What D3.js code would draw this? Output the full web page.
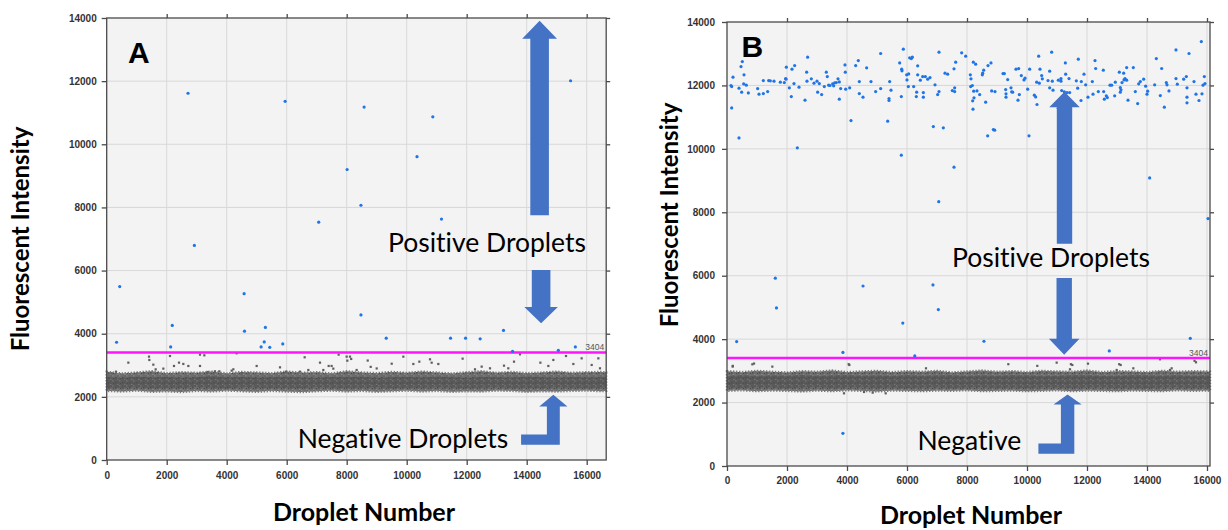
<!DOCTYPE html>
<html><head><meta charset="utf-8">
<script src="https://cdn.jsdelivr.net/npm/d3@7"></script>
<style>body{margin:0;background:#fff;} svg{display:block} text{font-variant-ligatures:none;font-feature-settings:"liga" 0,"clig" 0;}</style>
</head><body><svg id="c" width="1228" height="530"></svg>
<script>
// ---------------- DATA ----------------
const xTicks = [0, 2000, 4000, 6000, 8000, 10000, 12000, 14000, 16000];
const yTicks = [0, 2000, 4000, 6000, 8000, 10000, 12000, 14000];
const threshold = 3404;
const panelLetters = ["A", "B"];
const yTitle = "Fluorescent Intensity";
const xTitle = "Droplet Number";
const annotA = ["Positive Droplets", "Negative Droplets"];
const annotB = ["Positive Droplets", "Negative"];

// Panel A positive droplets [droplet number, intensity]
const positiveA = [[329,3730],[434,5493],[2132,3580],[2185,4264],[2711,11617],[2922,6797],[4580,5269],[4593,4082],[5146,3580],[5251,3740],[5290,4200],[5435,3570],[5869,3676],[5948,11360],[7067,7534],[8014,9201],[8475,8069],[8475,4595],[8580,11179],[9317,3858],[10344,9608],[10870,10869],[11160,7630],[11462,3858],[11962,3858],[12449,3837],[13226,4104],[13528,3441],[15055,3473],[15463,12012],[15621,3580]];

// Panel A negative droplets scattered above the main band
const scatterA = [[164,2746],[310,2798],[721,3084],[1410,3274],[1421,3168],[1554,3020],[1632,2872],[1888,2894],[2110,3295],[2243,2978],[2410,3084],[2554,3042],[2721,2978],[3110,3337],[3110,2978],[3254,3316],[3366,2788],[3610,2809],[3754,2809],[4165,2830],[4221,2872],[4332,3379],[4499,2746],[4999,2978],[5777,2935],[5977,2798],[6443,2798],[6599,3253],[6721,2851],[7110,3084],[7221,2851],[7399,2978],[7497,2978],[7554,2894],[7732,3337],[7999,3274],[8021,3147],[8110,3274],[8332,2851],[8150,3200],[8700,3150],[8800,2950],[9000,2900],[9500,3050],[9888,3273],[10221,3041],[10421,3115],[10777,3189],[10832,3083],[11054,3041],[11864,3210],[12277,2872],[12499,2957],[12777,2904],[13243,2988],[13387,2904],[13577,3115],[13777,3347],[14456,3083],[14721,2978],[14888,3168],[15310,3294],[15555,3041],[15832,3220],[16166,3010],[16388,3220],[16443,2904]];

// Panel A dense negative band: droplet number, outer upper/lower edge, core upper/lower edge
const bandXA = [0,500,1000,1500,2000,2500,3000,3500,4000,4500,5000,5500,6000,6500,7000,7500,8000,8500,9000,9500,10000,10500,11000,11500,12000,12500,13000,13500,14000,14500,15000,15500,16000,16500,16650];
const bandHiA = [2790,2740,2770,2810,2750,2780,2760,2800,2740,2790,2770,2750,2800,2760,2780,2740,2810,2770,2750,2790,2760,2800,2770,2740,2780,2810,2760,2790,2750,2770,2800,2760,2780,2790,2770];
const bandLoA = [2190,2170,2200,2160,2180,2150,2190,2170,2200,2180,2160,2190,2170,2150,2180,2200,2170,2190,2160,2180,2200,2170,2190,2160,2180,2170,2200,2190,2160,2180,2170,2190,2200,2180,2190];
const coreHiA = [2620,2600,2640,2610,2630,2600,2620,2650,2610,2630,2600,2620,2640,2610,2600,2630,2620,2640,2600,2620,2630,2610,2640,2620,2600,2630,2620,2610,2640,2620,2600,2630,2610,2620,2630];
const coreLoA = [2300,2290,2310,2280,2300,2290,2320,2300,2280,2310,2300,2290,2300,2280,2310,2300,2290,2300,2310,2280,2300,2290,2310,2300,2280,2300,2310,2290,2300,2280,2310,2300,2290,2300,2310];

// Panel B positive droplets
const positiveB = [[156,11292],[133,11997],[156,11965],[200,12259],[400,11913],[400,10346],[467,12596],[511,12753],[567,12333],[556,12049],[489,11786],[644,12007],[711,11765],[1022,11902],[1067,11723],[1211,11744],[1211,12154],[1355,11807],[1389,12154],[1444,12144],[1566,12133],[1778,12102],[1911,12091],[1966,12196],[1978,12575],[1955,12217],[2078,11923],[2144,11650],[2166,12511],[2233,12060],[2255,12627],[2344,10031],[2400,11944],[2600,11534],[2655,12417],[2688,12890],[2666,12133],[2811,12207],[2900,12070],[3000,12133],[3022,11786],[3078,12060],[3155,11713],[3244,11965],[3311,12417],[3344,12280],[3389,12007],[3433,11997],[3522,12049],[3589,12081],[3555,11986],[3644,12091],[3700,12207],[3744,12112],[3744,11566],[3789,11902],[3933,12648],[3944,12417],[3955,11881],[4089,11923],[4133,10893],[4289,12627],[4377,12785],[4411,12123],[4411,11744],[4533,11629],[4655,12554],[4800,12123],[4955,11807],[5122,13006],[5122,11902],
[5356,10872],[5400,11587],[5400,11524],[5422,12123],[5467,11849],[5756,12711],[5811,11650],[5822,12511],[5833,12459],[5878,13142],[5811,9800],[5989,12333],[6000,12175],[6056,12364],[6045,11965],[6089,12869],[6145,12848],[6178,12890],[6222,11965],[6322,11786],[6311,11650],[6356,12617],[6356,12333],[6445,12165],[6522,12280],[6611,12280],[6545,11776],[6545,11629],[6689,12196],[6767,12249],[6878,10704],[6934,12018],[7022,11713],[7067,13048],[7067,11807],[7211,10662],[7267,12385],[7356,12354],[7511,11839],[7567,12522],[7589,11923],[7589,11807],[7567,9422],[7622,12732],[7822,13027],[7956,12921],[8111,12333],[8133,12207],[8122,11965],[8178,11997],[8189,11513],[8200,11250],[8233,11608],[8222,11818],[8211,12732],[8289,12669],[8333,11828],[8422,11713],[8511,12333],[8522,12385],[8556,12480],[8622,11471],[8700,12627],[8689,10410],[8800,12711],[8822,11828],[8933,11807],[8878,10609],[8922,10588],[9200,12375],[9245,12375],[9289,11870],[9300,11734],[9300,11629],[9356,12186],[9467,11923],[9489,11797],[9522,11786],[9633,12511],[9722,12532],[9700,11534],[9745,11713],[9811,12312],[9900,12175],[9933,12228],[10022,11881],[10067,10410],[10089,12511],[10245,11692],[10289,11639],[10333,11398],[10322,12102],[10389,12921],[10411,12070],[10433,12511],[10489,12312],[10511,12207],[10700,12154],[10756,12448],[10756,11923],
[10844,12133],[10822,13048],[10867,11849],[11044,12165],[11133,12217],[11133,12133],[11044,11282],[11156,11839],[11244,11797],[11333,11776],[11422,11776],[11278,12711],[11289,12354],[11400,12217],[11644,12144],[11811,12123],[11689,11912],[11711,12827],[11800,11524],[11900,12354],[11956,12018],[12033,11629],[12178,12123],[12200,11723],[12267,12785],[12289,12533],[12378,11807],[12544,12480],[12556,11807],[12578,11566],[12644,11671],[12678,11618],[12767,12007],[12822,12007],[12944,12102],[12922,11671],[13078,12417],[13111,11933],[13133,11860],[13111,11786],[13167,12091],[13222,12385],[13233,12175],[13267,12217],[13322,12165],[13322,12564],[13544,12564],[13367,11534],[13611,11807],[13689,11429],[13722,12049],[13778,12123],[13889,12196],[13955,11975],[14000,11723],[14022,11818],[14089,9085],[14255,12018],[14311,12848],[14444,11681],[14489,12533],[14578,11313],[14644,12091],[14667,12018],[14733,11828],[14966,13121],[14966,12217],[15011,12039],[15222,12196],[15311,12280],[15333,11923],[15333,11629],[15333,11450],[15400,13006],[15567,12123],[15633,11723],[15733,11524],[15811,13384],[15833,11734],[15867,12007],[15911,12280],[15933,12060],
[322,3922],[1610,5921],[1649,4985],[3864,3582],[3864,1031],[4534,5676],[5860,4507],[6260,3470],[6865,5708],[7045,4932],[7058,8334],[8565,3933],[12743,3627],[15443,4027],[16035,7802]];

// Panel B scattered negative droplets
const scatterB = [[189,3133],[845,3206],[1511,3133],[4078,3185],[3900,2292],[4567,2334],[4856,2313],[5290,2292],[6633,3080],[193,3157],[901,3231],[4057,3210],[9377,3210],[10343,3157],[10989,3259],[11433,3049],[11511,3185],[12033,3227],[12989,3028],[13122,3185],[13544,3080],[14433,3364],[15633,3270],[14766,3028],[14822,3080],[11463,3210],[13073,3210],[15585,3317]];

const bandXB = [0,500,1000,1500,2000,2500,3000,3500,4000,4500,5000,5500,6000,6500,7000,7500,8000,8500,9000,9500,10000,10500,11000,11500,12000,12500,13000,13500,14000,14500,15000,15500,16000,16100];
const bandHiB = [2990,2960,3000,2970,2950,2990,2970,3010,2960,2980,3000,2960,2990,2970,3000,2950,2980,3010,2970,2990,2960,3000,2980,2970,3010,2960,2990,2980,2960,3000,2970,2990,2980,2970];
const bandLoB = [2370,2390,2360,2380,2370,2350,2380,2360,2390,2370,2350,2380,2370,2360,2380,2370,2390,2360,2370,2380,2360,2370,2390,2360,2380,2370,2360,2380,2370,2360,2390,2370,2380,2370];
const coreHiB = [2840,2860,2830,2850,2840,2870,2830,2850,2860,2840,2850,2830,2860,2840,2850,2860,2830,2850,2840,2860,2850,2830,2840,2860,2850,2840,2830,2860,2850,2840,2860,2830,2850,2840];
const coreLoB = [2480,2470,2490,2480,2460,2480,2490,2470,2480,2490,2470,2480,2460,2480,2490,2470,2480,2490,2470,2480,2460,2490,2480,2470,2480,2490,2470,2480,2460,2480,2490,2470,2480,2480];

// ---------------- DRAW ----------------
const svg = d3.select('#c');
const defs = svg.append('defs');
const pat = defs.append('pattern').attr('id','speck').attr('width',7).attr('height',5).attr('patternUnits','userSpaceOnUse');
[[0,0,1.5,1.5,'#8a8a8a'],[3,2,1.5,1.5,'#3e3e3e'],[5,4,1.5,1,'#959595'],[1,3,1,1,'#383838'],[5.5,0.5,1,1,'#454545']]
  .forEach(r=>pat.append('rect').attr('x',r[0]).attr('y',r[1]).attr('width',r[2]).attr('height',r[3]).attr('fill',r[4]));

function drawPanel(o){
  const g = svg.append('g');
  const x = d3.scaleLinear().domain([0, o.xMax]).range([o.left, o.right]);
  const y = d3.scaleLinear().domain([0, 14000]).range([o.bottom, o.top]);
  g.append('rect').attr('x',o.left).attr('y',o.top).attr('width',o.right-o.left).attr('height',o.bottom-o.top).attr('fill','#f3f3f3');
  g.selectAll('.gx').data(xTicks.filter(d=>d>0)).enter().append('line')
    .attr('x1',d=>x(d)).attr('x2',d=>x(d)).attr('y1',o.top).attr('y2',o.bottom).attr('stroke','#d8d8d8').attr('stroke-width',1);
  g.selectAll('.gy').data(yTicks.filter(d=>d>0 && d<14000)).enter().append('line')
    .attr('y1',d=>y(d)).attr('y2',d=>y(d)).attr('x1',o.left).attr('x2',o.right).attr('stroke','#d8d8d8').attr('stroke-width',1);

  const rows = o.bandX.map((v,i)=>[v,o.bandHi[i],o.bandLo[i],o.coreHi[i],o.coreLo[i]]);
  const outer = d3.area().x(d=>x(d[0])).y0(d=>y(d[2])).y1(d=>y(d[1]));
  const core = d3.area().x(d=>x(d[0])).y0(d=>y(d[4])).y1(d=>y(d[3]));
  g.append('path').attr('d',outer(rows)).attr('fill','#6c6c6c')
    .attr('stroke','#7c7c7c').attr('stroke-width',2.4).attr('stroke-dasharray','1.4 1.6');
  g.append('path').attr('d',outer(rows)).attr('fill','url(#speck)').attr('opacity',0.7);
  g.append('path').attr('d',core(rows)).attr('fill','#5a5a5a');
  g.append('path').attr('d',core(rows)).attr('fill','url(#speck)').attr('opacity',0.45);

  g.selectAll('.sn').data(o.scatter).enter().append('rect')
    .attr('x',d=>x(d[0])-1.1).attr('y',d=>y(d[1])-1.1).attr('width',2.2).attr('height',2.2).attr('fill','#5e5e5e');

  g.append('line').attr('x1',o.left).attr('x2',o.right).attr('y1',y(threshold)).attr('y2',y(threshold))
    .attr('stroke','#ff14ff').attr('stroke-width',2.6);
  g.append('text').attr('x',o.right-2).attr('y',y(threshold)-2.5).attr('text-anchor','end')
    .attr('font-family','Liberation Sans, Arial, sans-serif').attr('font-size',8.5).attr('fill','#555').text(threshold);

  g.selectAll('.pp').data(o.positive).enter().append('circle')
    .attr('cx',d=>x(d[0])).attr('cy',d=>y(d[1])).attr('r',1.6).attr('fill','#1f74e6');

  g.append('rect').attr('x',o.left).attr('y',o.top).attr('width',o.right-o.left).attr('height',o.bottom-o.top)
    .attr('fill','none').attr('stroke','#4a4a4a').attr('stroke-width',1.3);
  const lab = sel => sel.selectAll('text').attr('font-family','Liberation Sans, Arial, sans-serif')
      .attr('font-weight','bold').attr('font-size',10).attr('fill','#333');
  const clean = sel => { sel.select('.domain').remove(); sel.selectAll('line').attr('stroke','#4a4a4a').attr('stroke-width',1.3); };
  const ax = g.append('g').attr('transform',`translate(0,${o.bottom})`)
    .call(d3.axisBottom(x).tickValues(xTicks).tickSize(5).tickPadding(o.xPad).tickFormat(d3.format('d')));
  clean(ax); lab(ax);
  const ay = g.append('g').attr('transform',`translate(${o.left},0)`)
    .call(d3.axisLeft(y).tickValues(yTicks).tickSize(5).tickPadding(o.yPad).tickFormat(d3.format('d')));
  clean(ay); lab(ay);
  const at = g.append('g').attr('transform',`translate(0,${o.top})`)
    .call(d3.axisTop(x).tickValues(xTicks.filter(d=>d>0)).tickSize(4).tickFormat(''));
  clean(at);
  const ar = g.append('g').attr('transform',`translate(${o.right},0)`)
    .call(d3.axisRight(y).tickValues(yTicks.filter(d=>d>0)).tickSize(4).tickFormat(''));
  clean(ar);

  const poly = pts => 'M' + pts.map(p=>x(p[0])+','+y(p[1])).join('L') + 'Z';
  const straight = a => [
    [a.cx-a.shaftW/2,a.tail],[a.cx+a.shaftW/2,a.tail],[a.cx+a.shaftW/2,a.base],[a.cx+a.headW/2,a.base],
    [a.cx,a.tip],[a.cx-a.headW/2,a.base],[a.cx-a.shaftW/2,a.base]];
  const elbow = a => { const cx = a.x1 - a.shaftW/2; return [
    [a.x0,a.yBot],[a.x1,a.yBot],[a.x1,a.base],[cx+a.headW/2,a.base],[cx,a.tip],[cx-a.headW/2,a.base],
    [a.x1-a.shaftW,a.base],[a.x1-a.shaftW,a.yTop],[a.x0,a.yTop]]; };
  g.append('path').attr('d',poly(straight(o.up))).attr('fill','#4472c4');
  g.append('path').attr('d',poly(straight(o.down))).attr('fill','#4472c4');
  g.append('path').attr('d',poly(elbow(o.elbow))).attr('fill','#4472c4');

  g.append('text').attr('x',x(o.posText[0])).attr('y',y(o.posText[1])).attr('text-anchor','middle')
    .attr('font-family','Lato, sans-serif').attr('font-size',26.5).attr('fill','#000').text(o.labels[0]);
  g.append('text').attr('x',x(o.negText[0])).attr('y',y(o.negText[1])).attr('text-anchor','middle')
    .attr('font-family','Lato, sans-serif').attr('font-size',26.5).attr('fill','#000').text(o.labels[1]);
  g.append('text').attr('x',x(o.letterPos[0])).attr('y',y(o.letterPos[1]))
    .attr('font-family','Liberation Sans, Arial, sans-serif').attr('font-weight','bold').attr('font-size',30).attr('fill','#000').text(o.letter);
  g.append('text').attr('transform',`translate(${o.yTitle[0]},${o.yTitle[1]}) rotate(-90)`).attr('dy','0.35em')
    .attr('text-anchor','middle').attr('font-family','Lato, sans-serif').attr('font-weight','bold').attr('font-size',24).text(yTitle);
  g.append('text').attr('x',o.xTitle[0]).attr('y',o.xTitle[1]).attr('dy','0.35em')
    .attr('text-anchor','middle').attr('font-family','Lato, sans-serif').attr('font-weight','bold').attr('font-size',25).text(xTitle);
}

drawPanel({
  left:106.7, right:606.2, top:18, bottom:460, xMax:16650, xPad:7, yPad:5,
  bandX:bandXA, bandHi:bandHiA, bandLo:bandLoA, coreHi:coreHiA, coreLo:coreLoA,
  scatter:scatterA, positive:positiveA,
  up:{cx:14430, tail:7754, base:13342, tip:13909, shaftW:620, headW:1160},
  down:{cx:14480, tail:6022, base:4846, tip:4333, shaftW:620, headW:1117},
  elbow:{x0:13813, x1:15103, yBot:485, yTop:805, shaftW:430, base:1695, tip:2068, headW:940},
  posText:[12677,6577], negText:[9877,380], labels:annotA,
  letter:panelLetters[0], letterPos:[710,12560],
  yTitle:[21,239], xTitle:[364,512]
});
drawPanel({
  left:727, right:1210, top:22, bottom:466, xMax:16100, xPad:6, yPad:7,
  bandX:bandXB, bandHi:bandHiB, bandLo:bandLoB, coreHi:coreHiB, coreLo:coreLoB,
  scatter:scatterB, positive:positiveB,
  up:{cx:11250, tail:7004, base:11308, tip:11797, shaftW:513, headW:1017},
  down:{cx:11240, tail:5929, base:4009, tip:3510, shaftW:513, headW:1017},
  elbow:{x0:10380, x1:11577, yBot:388, yTop:706, shaftW:447, base:1943, tip:2252, headW:940},
  posText:[10800,6288], negText:[8080,505], labels:annotB,
  letter:panelLetters[1], letterPos:[483,12886],
  yTitle:[670,215], xTitle:[971,515]
});
</script></body></html>
